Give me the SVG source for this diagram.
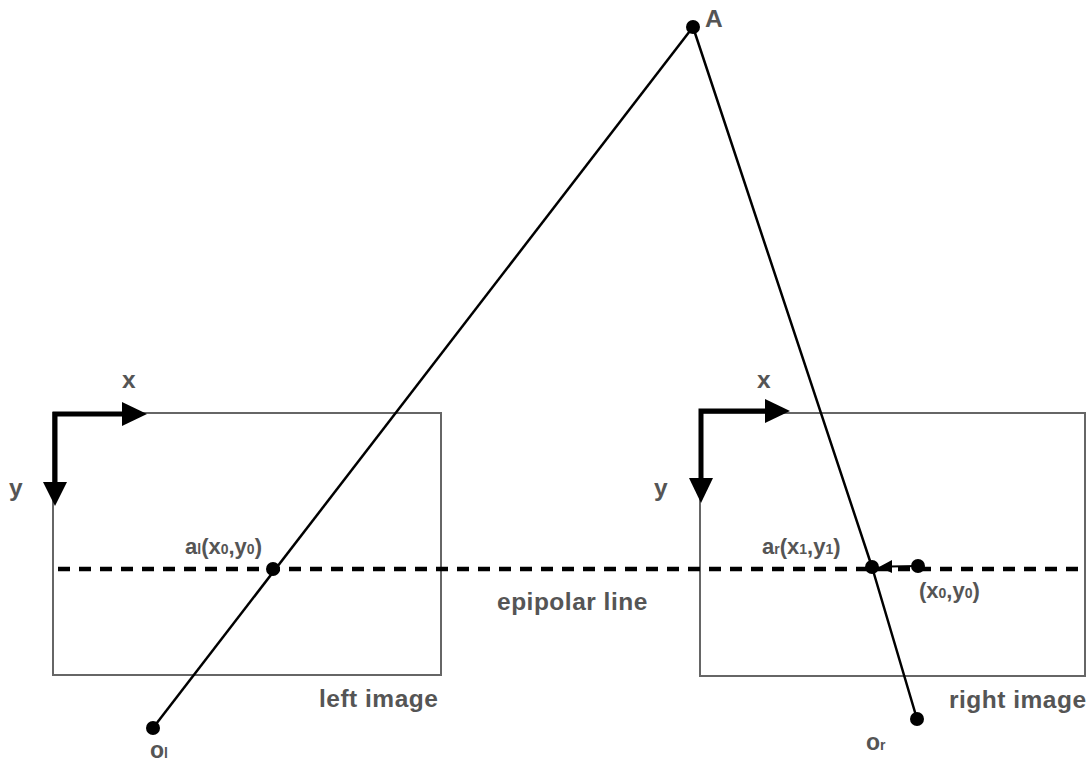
<svg xmlns="http://www.w3.org/2000/svg" width="1091" height="761" viewBox="0 0 1091 761">
<style>
.lbl{font-family:"Liberation Sans",Arial,Helvetica,sans-serif;font-weight:bold;fill:#555}
.big{font-size:24.5px;letter-spacing:0.5px}
.mid{font-size:22px}
.sub{font-size:14px}
.frame{fill:none;stroke:#666;stroke-width:2}
.ray{stroke:#000;stroke-width:2.5;fill:none;stroke-linejoin:round}
.axis{stroke:#000;stroke-width:5;fill:none}
.dot{fill:#000}
</style>
<rect width="1091" height="761" fill="#fff"/>
<g id="left-image">
<rect class="frame" x="53" y="413" width="388" height="262"/>
<text class="lbl big" x="319" y="707">left image</text>
</g>
<g id="right-image">
<rect class="frame" x="700" y="413" width="385" height="263"/>
<text class="lbl big" x="949" y="708">right image</text>
</g>
<g id="connectors">
<line class="ray" x1="693" y1="27" x2="153" y2="728"/>
<polyline class="ray" points="693,27 872,567 917,719"/>
<line x1="58" y1="569" x2="1080" y2="569" stroke="#000" stroke-width="4.5" stroke-dasharray="12 9"/>
<line x1="918" y1="566" x2="890" y2="566.5" stroke="#000" stroke-width="2"/>
<path d="M879,567 L892,560 L892,573 z" fill="#000"/>
</g>
<g id="left-axes">
<polyline class="axis" points="55,483 55,414 122,414"/>
<path d="M122,402 L147,414 L122,426 z" fill="#000"/>
<path d="M43,482 L55,506 L67,482 z" fill="#000"/>
<text class="lbl big" x="122" y="388">x</text>
<text class="lbl big" x="9" y="496">y</text>
</g>
<g id="right-axes">
<polyline class="axis" points="701,479 701,411 765,411"/>
<path d="M765,399 L790,411 L765,423 z" fill="#000"/>
<path d="M689,478 L701,503 L713,478 z" fill="#000"/>
<text class="lbl big" x="757" y="388">x</text>
<text class="lbl big" x="654" y="496">y</text>
</g>
<g id="point-A">
<circle class="dot" cx="693" cy="27" r="7"/>
<text class="lbl big" x="705" y="27">A</text>
</g>
<g id="point-al">
<circle class="dot" cx="273" cy="569" r="7"/>
<text class="lbl mid" x="185" y="554">a<tspan class="sub">l</tspan>(x<tspan class="sub">0</tspan>,y<tspan class="sub">0</tspan>)</text>
</g>
<g id="point-ar">
<circle class="dot" cx="872" cy="567" r="7"/>
<text class="lbl mid" x="762" y="554">a<tspan class="sub">r</tspan>(x<tspan class="sub">1</tspan>,y<tspan class="sub">1</tspan>)</text>
</g>
<g id="point-x0y0">
<circle class="dot" cx="918" cy="566" r="7"/>
<text class="lbl mid" x="919" y="598">(x<tspan class="sub">0</tspan>,y<tspan class="sub">0</tspan>)</text>
</g>
<g id="point-ol">
<circle class="dot" cx="153" cy="728" r="7"/>
<text class="lbl" x="150" y="758" font-size="23">o<tspan font-size="14">l</tspan></text>
</g>
<g id="point-or">
<circle class="dot" cx="917" cy="719" r="7"/>
<text class="lbl" x="866" y="750" font-size="23">o<tspan font-size="14">r</tspan></text>
</g>
<g id="epipolar-label">
<text class="lbl big" x="497" y="610">epipolar line</text>
</g>
</svg>
